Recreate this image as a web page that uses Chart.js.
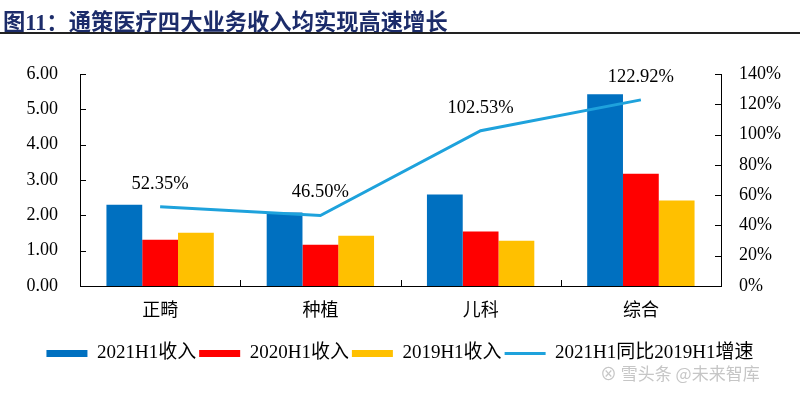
<!DOCTYPE html>
<html>
<head>
<meta charset="utf-8">
<script src="https://cdn.jsdelivr.net/npm/chart.js@4"></script>
<style>
  html, body { margin: 0; padding: 0; background: #fff; }
  #wrap { position: relative; width: 800px; height: 396px; overflow: hidden; }
  #title {
    position: absolute; left: 3px; top: 4px;
    font: bold 22.3px 'Liberation Serif', 'Noto Sans CJK SC', serif;
    color: #1c2c6a; white-space: nowrap;
  }
  #rule { position: absolute; left: 0; top: 32px; width: 800px; height: 2px; background: #222; }
  #mark {
    position: absolute; left: 600px; top: 360px;
    font: 17px 'Noto Sans CJK SC', sans-serif; color: #c6c6c6; white-space: nowrap;
  }
  canvas { position: absolute; left: 0; top: 0; }
</style>
</head>
<body>
<div id="wrap">
  <canvas id="chart" width="800" height="396"></canvas>
  <div id="title">图11：通策医疗四大业务收入均实现高速增长</div>
  <div id="rule"></div>
  <div id="mark">⊗ 雪头条 @未来智库</div>
</div>
<script>
const categories = ['正畸', '种植', '儿科', '综合'];
const revenue2021H1 = [2.30, 2.08, 2.59, 5.43];
const revenue2020H1 = [1.31, 1.17, 1.54, 3.18];
const revenue2019H1 = [1.51, 1.42, 1.28, 2.42];
const growthVs2019 = [52.35, 46.50, 102.53, 122.92]; // %
const growthLabels = ['52.35%', '46.50%', '102.53%', '122.92%'];

const serif = "'Liberation Serif', 'Noto Sans CJK SC', serif";

// small inward tick marks on all three axes
const innerTicks = {
    id: 'innerTicks',
    afterDatasetsDraw(chart) {
        const ctx = chart.ctx;
        const area = chart.chartArea;
        const y = chart.scales.y, y1 = chart.scales.y1, x = chart.scales.x;
        ctx.save();
        ctx.strokeStyle = '#000';
        ctx.lineWidth = 1;
        ctx.beginPath();
        y.ticks.forEach(t => {
            const py = Math.round(y.getPixelForValue(t.value)) + 0.5;
            ctx.moveTo(area.left, py); ctx.lineTo(area.left + 6, py);
        });
        y1.ticks.forEach(t => {
            const py = Math.round(y1.getPixelForValue(t.value)) + 0.5;
            ctx.moveTo(area.right, py); ctx.lineTo(area.right - 6, py);
        });
        for (let i = 1; i < categories.length; i++) {
            const px = Math.round((x.getPixelForValue(i - 1) + x.getPixelForValue(i)) / 2) + 0.5;
            ctx.moveTo(px, area.bottom); ctx.lineTo(px, area.bottom - 6);
        }
        ctx.stroke();
        ctx.restore();
    }
};

// percentage labels above the growth line
const lineLabels = {
    id: 'lineLabels',
    afterDatasetsDraw(chart) {
        const ctx = chart.ctx;
        const meta = chart.getDatasetMeta(3);
        ctx.save();
        ctx.font = '18.5px ' + serif;
        ctx.fillStyle = '#000';
        ctx.textAlign = 'center';
        ctx.textBaseline = 'middle';
        meta.data.forEach((pt, i) => {
            ctx.fillText(growthLabels[i], pt.x, pt.y - 23);
        });
        ctx.restore();
    }
};

new Chart(document.getElementById('chart'), {
    data: {
        labels: categories,
        datasets: [
            { type: 'bar', label: '2021H1收入', data: revenue2021H1, backgroundColor: '#0070c0', yAxisID: 'y', order: 2 },
            { type: 'bar', label: '2020H1收入', data: revenue2020H1, backgroundColor: '#ff0000', yAxisID: 'y', order: 2 },
            { type: 'bar', label: '2019H1收入', data: revenue2019H1, backgroundColor: '#ffc000', yAxisID: 'y', order: 2 },
            { type: 'line', label: '2021H1同比2019H1增速', data: growthVs2019, borderColor: '#1ea2dc',
              borderWidth: 3, pointRadius: 0, tension: 0, yAxisID: 'y1', order: 1 }
        ]
    },
    options: {
        responsive: false,
        animation: false,
        layout: { padding: { top: 74, bottom: 23, left: 0, right: 0 } },
        datasets: { bar: { categoryPercentage: 0.67, barPercentage: 1.0 } },
        plugins: {
            tooltip: { enabled: false },
            legend: {
                position: 'bottom',
                labels: {
                    font: { family: serif, size: 19 },
                    color: '#000',
                    usePointStyle: true,
                    pointStyleWidth: 41,
                    boxHeight: 7,
                    padding: 3,
                    generateLabels(chart) {
                        return chart.data.datasets.map((ds, i) => ({
                            text: ds.label,
                            datasetIndex: i,
                            fillStyle: ds.type === 'line' ? ds.borderColor : ds.backgroundColor,
                            strokeStyle: ds.type === 'line' ? ds.borderColor : ds.backgroundColor,
                            lineWidth: ds.type === 'line' ? 3 : 0,
                            pointStyle: ds.type === 'line' ? 'line' : 'rect',
                            hidden: false
                        }));
                    }
                }
            }
        },
        scales: {
            x: {
                grid: { display: false, drawTicks: false },
                border: { color: '#000', width: 1 },
                ticks: { font: { family: serif, size: 18 }, color: '#000', padding: 14 },
                afterFit(scale) { scale.height = 55; }
            },
            y: {
                position: 'left',
                min: 0, max: 6,
                grid: { display: false, drawTicks: false },
                border: { color: '#000', width: 1 },
                ticks: { stepSize: 1, font: { family: serif, size: 18 }, color: '#000', padding: 22,
                         callback: v => v.toFixed(2) },
                afterFit(scale) { scale.width = 80; }
            },
            y1: {
                position: 'right',
                min: 0, max: 140,
                grid: { display: false, drawTicks: false },
                border: { color: '#000', width: 1 },
                ticks: { stepSize: 20, font: { family: serif, size: 18 }, color: '#000', padding: 18,
                         callback: v => v + '%' },
                afterFit(scale) { scale.width = 79; }
            }
        }
    },
    plugins: [innerTicks, lineLabels]
});
</script>
</body>
</html>
